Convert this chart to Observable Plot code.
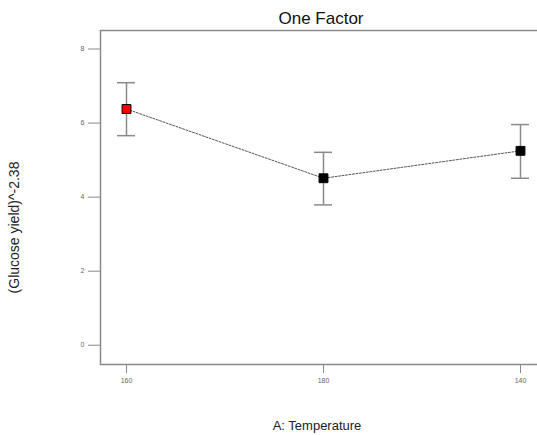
<!DOCTYPE html>
<html>
<head>
<meta charset="utf-8">
<script src="https://cdn.jsdelivr.net/npm/d3@7"></script>
<script src="https://cdn.jsdelivr.net/npm/@observablehq/plot@0.6"></script>
<style>
  body { margin: 0; background: #fff; }
  #chart { width: 537px; height: 435px; overflow: hidden; }
  #chart svg { max-width: none !important; }
</style>
</head>
<body>
<div id="chart"></div>
<script>
const temps = ["160", "180", "140"];
const means = [6.38, 4.51, 5.25];
const upper = [7.09, 5.21, 5.96];
const lower = [5.66, 3.79, 4.51];
const fills = ["#ff0000", "#000000", "#000000"];
const yTicks = [0, 2, 4, 6, 8];

const data = temps.map((t, i) => ({t, m: means[i], hi: upper[i], lo: lower[i], f: fills[i]}));

const font = "'Liberation Sans', Arial, sans-serif";
const gray = "#8a8a8a";

const chart = Plot.plot({
  width: 541,
  height: 435,
  marginLeft: 100,
  marginRight: 0,
  marginTop: 30,
  marginBottom: 71,
  style: {fontFamily: font, background: "#fff", maxWidth: "none"},
  x: {type: "band", domain: temps, range: [116.7, 529], paddingInner: 0.9087, paddingOuter: 0, axis: null},
  y: {domain: [-0.52, 8.5], axis: null},
  marks: [
    Plot.frame({stroke: gray, strokeWidth: 1.5}),
    Plot.axisY(yTicks, {tickSize: 12, tickPadding: 4, fontSize: 7, stroke: gray, color: "#666", label: null}),
    Plot.axisX(temps, {tickSize: 9, tickPadding: 5, fontSize: 7, stroke: gray, color: "#666", label: null}),
    Plot.ruleX(data, {x: "t", y1: "lo", y2: "hi", stroke: gray, strokeWidth: 1.5}),
    Plot.tickY(data, {x: "t", y: "hi", stroke: gray, strokeWidth: 1.5}),
    Plot.tickY(data, {x: "t", y: "lo", stroke: gray, strokeWidth: 1.5}),
    Plot.line(data, {x: "t", y: "m", stroke: "#555", strokeWidth: 1, strokeDasharray: "2,1.5"}),
    Plot.dot(data, {x: "t", y: "m", symbol: "square", r: 5, fill: "f", stroke: "#000", strokeWidth: 1}),
    Plot.text(["One Factor"], {frameAnchor: "top", dy: -19, fontSize: 17, fill: "#111", dx: 0}),
    Plot.text(["A: Temperature"], {frameAnchor: "bottom", dy: 65, dx: -4, fontSize: 13, fill: "#222"}),
    Plot.text(["(Glucose yield)^-2.38"], {frameAnchor: "left", textAnchor: "middle", dx: -86, dy: 30, rotate: -90, fontSize: 14, fill: "#222"})
  ]
});
document.getElementById("chart").appendChild(chart);
</script>
</body>
</html>
